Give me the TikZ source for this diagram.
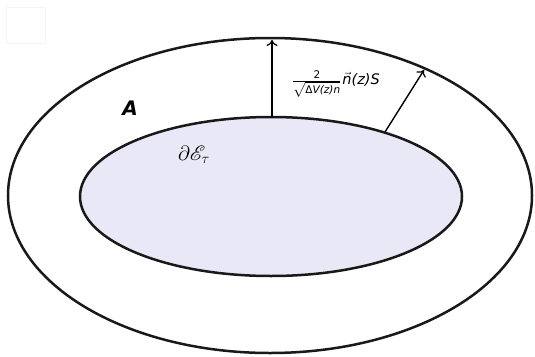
\documentclass[tikz,border=0pt]{standalone}
\usepackage{fontspec}
\usepackage{amsmath}
\usepackage{mathrsfs}
\newfontfamily\dvs{DejaVu Sans}
\usetikzlibrary{arrows.meta}
\definecolor{innerfill}{RGB}{232,232,246}
\newcommand{\fracfont}{\dvs\fontsize{10.5}{12}\selectfont}
\newcommand{\mainfont}{\dvs\itshape\fontsize{14.5}{17}\selectfont}
\tikzset{
  ring/.style={line width=2.5pt, draw=black!90},
  normalarrow/.style={line width=1.4pt, -{To[length=6pt,width=11pt,line width=1.2pt]}},
}
\begin{document}
\begin{tikzpicture}[x=1pt,y=-1pt]
\useasboundingbox (0,0) rectangle (535,356);
\fill[white] (0,0) rectangle (535,356);
\draw[gray!8, line width=1pt] (6,7) rectangle (45,43);
\draw[ring] (270,195.5) ellipse [x radius=262, y radius=157.5];
\draw[ring, fill=innerfill] (271,196.5) ellipse [x radius=191, y radius=79.5];
\coordinate (p1) at (272,117);
\coordinate (q1) at (272,40);
\coordinate (p2) at (385,132);
\coordinate (q2) at (424,70);
\draw[normalarrow] (p1) -- (q1);
\draw[normalarrow] (p2) -- (q2);
\node[inner sep=0pt] (lab) at (336,84) {\mainfont
  $\frac{\text{\fracfont\upshape 2}}{\sqrt{\text{\fracfont\upshape Δ\itshape V(z)n}}}$\kern1pt$\vec{\text{\mainfont n}}$(z)S};
\node (A) at (130,108) {\fontsize{20}{24}\selectfont\dvs\bfseries\itshape A};
\node (E) at (194,155) {\fontsize{21}{24}\selectfont$\partial\mathscr{E}_\tau$};
\end{tikzpicture}
\end{document}
